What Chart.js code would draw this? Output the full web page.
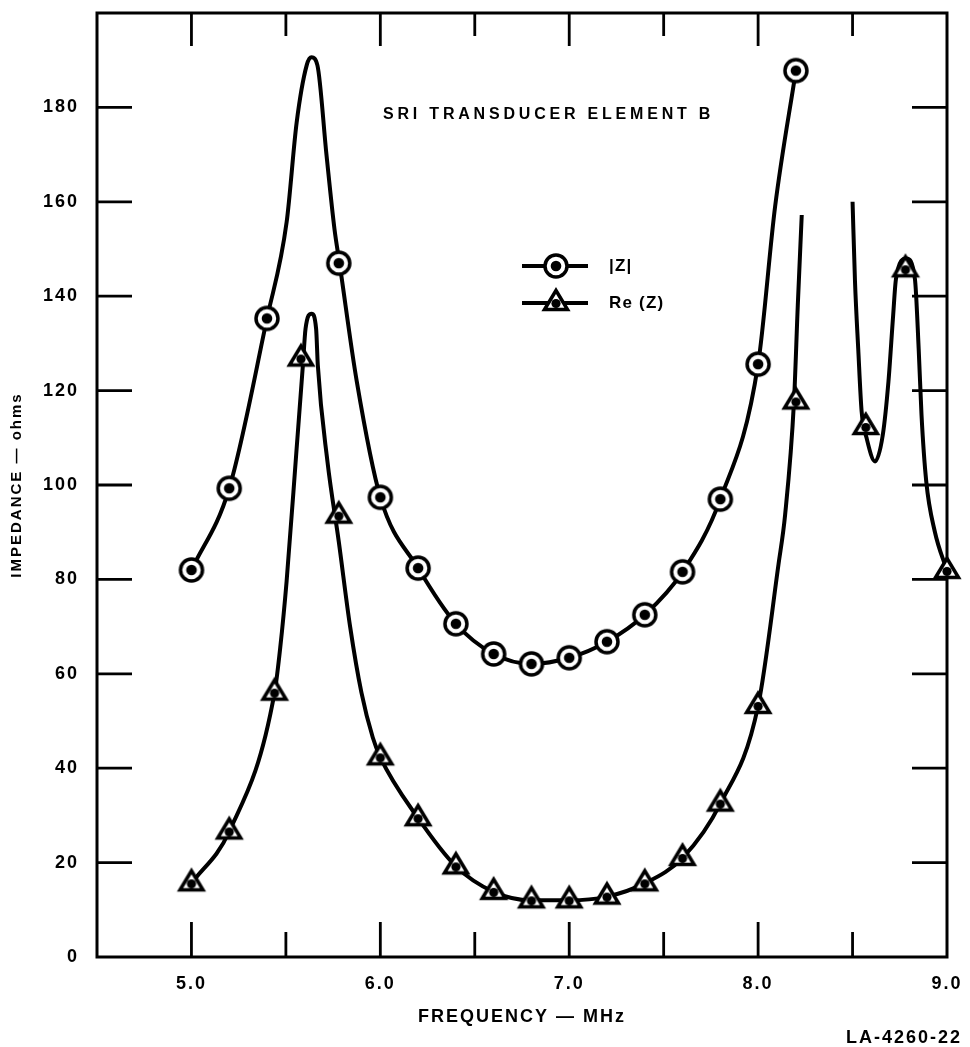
<!DOCTYPE html>
<html>
<head>
<meta charset="utf-8">
<title>SRI Transducer Element B</title>
<script src="https://cdn.jsdelivr.net/npm/chart.js@4.4.1/dist/chart.umd.min.js"></script>
<style>
  html, body { margin: 0; padding: 0; background: #fff; overflow: hidden; }
  #wrap { position: relative; width: 970px; height: 1047px; }
</style>
</head>
<body>
<div id="wrap"><canvas id="myChart"></canvas></div>
<script>
// markers (MHz, ohms)
var freqMag = [5.0, 5.2, 5.4, 5.78, 6.0, 6.2, 6.4, 6.6, 6.8, 7.0, 7.2, 7.4, 7.6, 7.8, 8.0, 8.2]
var magZ    = [82, 99.3, 135.3, 147, 97.4, 82.4, 70.6, 64.2, 62.1, 63.4, 66.8, 72.5, 81.6, 97, 125.6, 187.8]

var freqRe = [5.0, 5.2, 5.44, 5.58, 5.78, 6.0, 6.2, 6.4, 6.6, 6.8, 7.0, 7.2, 7.4, 7.6, 7.8, 8.0, 8.2, 8.57, 8.78, 9.0]
var reZ    = [15.6, 26.6, 56, 126.8, 93.5, 42.3, 29.4, 19.2, 13.8, 12, 12, 12.8, 15.6, 21, 32.5, 53.2, 117.7, 112.3, 145.7, 81.8]

// the hand drawn curves (null = where the curve is broken off)
var magCurveF = [5.0, 5.2, 5.4, 5.504, 5.557, 5.61, 5.636, 5.667, 5.715, 5.757, 5.784, 5.875, 6.0, 6.2, 6.4, 6.6, 6.8, 7.0, 7.2, 7.4, 7.6, 7.8, 8.0, 8.09, 8.2]
var magCurveV = [82, 99.3, 135.3, 155.7, 176.8, 188.9, 190.6, 188.9, 169.9, 154.3, 147, 122, 97.4, 82.4, 70.6, 64.2, 62.1, 63.4, 66.8, 72.5, 81.6, 97, 125.6, 159, 187.8]

var reCurveF = [5.0, 5.2, 5.44, 5.47, 5.504, 5.557, 5.59, 5.604, 5.636, 5.66, 5.669, 5.72, 5.78, 5.84, 5.9, 5.96, 6.0, 6.2, 6.4, 6.6, 6.8, 7.0, 7.2, 7.4, 7.6, 7.8, 8.0, 8.108, 8.143, 8.19, 8.21, 8.231,
                8.36,
                8.5, 8.513, 8.53, 8.548, 8.574, 8.619, 8.66, 8.69, 8.715, 8.73, 8.785, 8.83, 8.85, 8.865, 8.89, 8.935, 9.0]
var reCurveV = [15.6, 26.6, 56, 65.5, 79.7, 107.8, 125.4, 133.1, 136.3, 133.1, 125.4, 105, 88, 70, 56, 46.5, 42.3, 29.4, 19.2, 13.8, 12, 12, 12.8, 15.6, 21, 32.5, 53.2, 83.2, 93.7, 117.7, 138, 157.2,
                null,
                160, 143, 128.9, 115.6, 110, 105, 110.6, 121.9, 136, 143.7, 148, 143.7, 128.9, 114.9, 100.8, 90.2, 81.8]

var freqLabels = ['5.0', '6.0', '7.0', '8.0', '9.0']
var ohmLabels = ['0', '20', '40', '60', '80', '100', '120', '140', '160', '180']
var seriesNames = ['|Z|', 'Re (Z)']
var plotTitle = 'SRI TRANSDUCER ELEMENT B'

var FONT = '"Liberation Sans", Arial, Helvetica, sans-serif'
Chart.defaults.font.family = FONT
Chart.defaults.font.weight = 'bold'
Chart.defaults.color = '#000'

function pts(fs, vs) {
  return fs.map(function (f, i) { return { x: f, y: vs[i] } })
}

// open circle with a dot in the middle
function circleMark() {
  var c = document.createElement('canvas')
  c.width = 32; c.height = 32
  var g = c.getContext('2d')
  g.beginPath(); g.arc(16, 16, 11, 0, Math.PI * 2)
  g.fillStyle = '#fff'; g.fill()
  g.lineWidth = 3.5; g.strokeStyle = '#000'; g.stroke()
  g.beginPath(); g.arc(16, 16, 5.3, 0, Math.PI * 2)
  g.fillStyle = '#000'; g.fill()
  return c
}

// open triangle with a dot, centroid in the middle of the canvas
function triangleMark() {
  var c = document.createElement('canvas')
  c.width = 38; c.height = 38
  var g = c.getContext('2d')
  g.beginPath()
  g.moveTo(19, 6.5); g.lineTo(30.5, 25.5); g.lineTo(7.5, 25.5); g.closePath()
  g.fillStyle = '#fff'; g.fill()
  g.lineWidth = 3.5; g.lineJoin = 'miter'; g.strokeStyle = '#000'; g.stroke()
  g.beginPath(); g.arc(19, 19.5, 4.6, 0, Math.PI * 2)
  g.fillStyle = '#000'; g.fill()
  return c
}

var circleImg = circleMark()
var triImg = triangleMark()

var spacing = {
  id: 'spacing',
  beforeDraw: function (chart) { chart.ctx.letterSpacing = '2px' }
}

// frame and inward tick marks on all four sides
var frame = {
  id: 'frame',
  beforeDatasetsDraw: function (chart) {
    var ctx = chart.ctx, a = chart.chartArea
    var sx = chart.scales.x, sy = chart.scales.y
    ctx.save()
    ctx.strokeStyle = '#000'
    ctx.lineWidth = 3
    ctx.strokeRect(a.left, a.top, a.right - a.left, a.bottom - a.top)
    ctx.lineWidth = 2.8
    ctx.beginPath()
    sx.ticks.forEach(function (t) {
      if (t.value <= sx.min + 1e-6 || t.value >= sx.max - 1e-6) return
      var px = sx.getPixelForValue(t.value)
      var major = Math.abs(t.value - Math.round(t.value)) < 1e-6
      var len = major ? 35 : 25
      ctx.moveTo(px, a.bottom); ctx.lineTo(px, a.bottom - len)
      ctx.moveTo(px, a.top); ctx.lineTo(px, a.top + len - 2)
    })
    sy.ticks.forEach(function (t) {
      if (t.value <= sy.min || t.value >= sy.max) return
      var py = sy.getPixelForValue(t.value)
      ctx.moveTo(a.left, py); ctx.lineTo(a.left + 35, py)
      ctx.moveTo(a.right, py); ctx.lineTo(a.right - 35, py)
    })
    ctx.stroke()
    ctx.restore()
  }
}

var texts = {
  id: 'texts',
  afterDraw: function (chart) {
    var ctx = chart.ctx, a = chart.chartArea
    ctx.save()
    ctx.fillStyle = '#000'
    ctx.strokeStyle = '#000'
    ctx.textBaseline = 'middle'
    ctx.textAlign = 'left'

    ctx.font = 'bold 16px ' + FONT
    ctx.letterSpacing = '3.8px'
    ctx.fillText(plotTitle, a.left + 286, a.top + 102)

    // legend
    var marks = [circleImg, triImg]
    var rows = [a.top + 253, a.top + 290]
    ctx.font = 'bold 17px ' + FONT
    ctx.letterSpacing = '1.2px'
    for (var i = 0; i < 2; i++) {
      var y = rows[i]
      ctx.lineWidth = 4
      ctx.beginPath()
      ctx.moveTo(a.left + 425, y); ctx.lineTo(a.left + 491, y)
      ctx.stroke()
      var m = marks[i]
      ctx.drawImage(m, a.left + 459 - m.width / 2, y - m.height / 2)
      ctx.fillText(seriesNames[i], a.left + 512, y)
    }

    ctx.font = 'bold 18px ' + FONT
    ctx.letterSpacing = '2px'
    ctx.textAlign = 'right'
    ctx.fillText('LA-4260-22', chart.width - 8, 1038)
    ctx.restore()
  }
}

var ctx = document.getElementById('myChart')

new Chart(ctx, {
  type: 'line',
  data: {
    datasets: [
      {
        label: seriesNames[0],
        data: pts(freqMag, magZ),
        showLine: false,
        pointStyle: circleImg,
        pointRadius: 12,
        clip: false,
        order: 0
      },
      {
        label: seriesNames[1],
        data: pts(freqRe, reZ),
        showLine: false,
        pointStyle: triImg,
        pointRadius: 12,
        clip: false,
        order: 0
      },
      {
        label: 'curve |Z|',
        data: pts(magCurveF, magCurveV),
        borderColor: '#000',
        borderWidth: 4,
        pointRadius: 0,
        fill: false,
        cubicInterpolationMode: 'monotone',
        order: 1
      },
      {
        label: 'curve Re (Z)',
        data: pts(reCurveF, reCurveV),
        borderColor: '#000',
        borderWidth: 4,
        pointRadius: 0,
        fill: false,
        spanGaps: false,
        cubicInterpolationMode: 'monotone',
        order: 1
      }
    ]
  },
  options: {
    responsive: true,
    maintainAspectRatio: false,
    animation: false,
    events: [],
    layout: { padding: { top: 10, right: 23, left: 0, bottom: 0 } },
    plugins: {
      legend: { display: false },
      tooltip: { enabled: false },
      title: { display: false }
    },
    scales: {
      x: {
        type: 'linear',
        min: 4.5,
        max: 9.0,
        grid: { display: false, drawTicks: false },
        border: { display: false },
        ticks: {
          stepSize: 0.5,
          autoSkip: false,
          maxRotation: 0,
          padding: 16,
          color: '#000',
          font: { size: 18 },
          callback: function (v) {
            var hit = freqLabels.filter(function (l) { return Math.abs(parseFloat(l) - v) < 1e-6 })
            return hit.length ? hit[0] : ''
          }
        },
        title: {
          display: true,
          text: 'FREQUENCY — MHz',
          color: '#000',
          font: { size: 18 },
          padding: { top: 0, bottom: 19 }
        },
        afterFit: function (s) {
          s.height = 90
          s.paddingLeft = 0
          s.paddingRight = 0
        }
      },
      y: {
        min: 0,
        max: 200,
        grid: { display: false, drawTicks: false },
        border: { display: false },
        ticks: {
          stepSize: 20,
          padding: 18,
          color: '#000',
          font: { size: 18 },
          callback: function (v) {
            return ohmLabels.indexOf(String(v)) >= 0 ? String(v) : ''
          }
        },
        title: {
          display: true,
          text: 'IMPEDANCE — ohms',
          color: '#000',
          font: { size: 15 },
          padding: { top: 8, bottom: 0 }
        },
        afterFit: function (s) {
          s.width = 97
          s.paddingTop = 0
          s.paddingBottom = 0
        }
      }
    }
  },
  plugins: [spacing, frame, texts]
})
</script>
</body>
</html>
